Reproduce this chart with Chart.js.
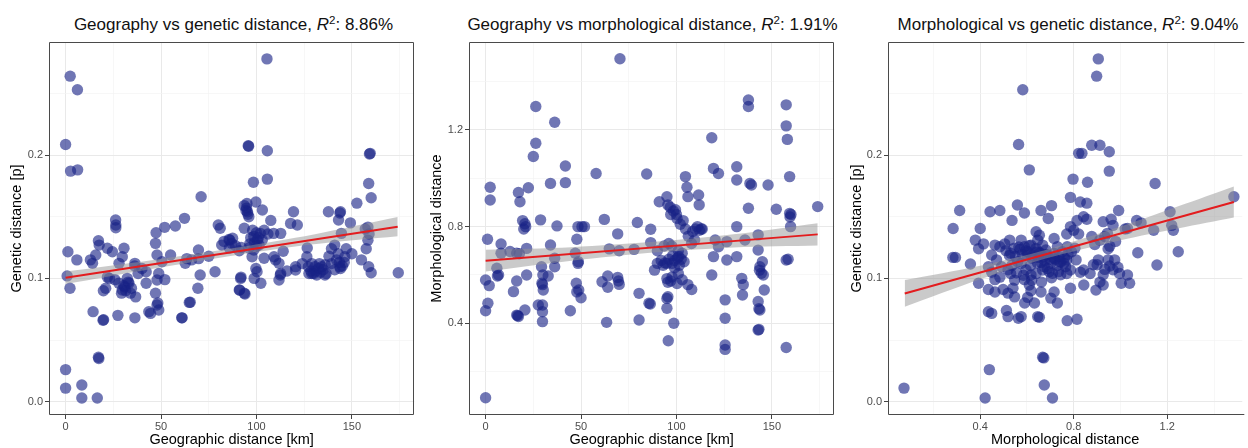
<!DOCTYPE html>
<html>
<head>
<meta charset="utf-8">
<script src="https://cdn.jsdelivr.net/npm/chart.js@4.4.1/dist/chart.umd.min.js"></script>
<style>
  html, body { margin:0; padding:0; background:#fff; overflow:hidden; }
  body { width:1248px; height:448px; position:relative; font-family:"Liberation Sans", Arial, Helvetica, sans-serif; }
  canvas { position:absolute; top:0; }
  .ttl { position:absolute; top:16px; font-size:17px; line-height:17px; white-space:nowrap; transform:translateX(-50%); color:#111; }
  .ttl sup { font-size:0.68em; line-height:0; vertical-align:0; position:relative; top:-0.5em; }
</style>
</head>
<body>
<div class="ttl" style="left:233.5px">Geography vs genetic distance, <i>R</i><sup>2</sup>: 8.86%</div>
<div class="ttl" style="left:652.5px">Geography vs morphological distance, <i>R</i><sup>2</sup>: 1.91%</div>
<div class="ttl" style="left:1068px">Morphological vs genetic distance, <i>R</i><sup>2</sup>: 9.04%</div>
<canvas id="c1" width="420" height="448" style="left:0px"></canvas>
<canvas id="c2" width="420" height="448" style="left:420px"></canvas>
<canvas id="c3" width="408" height="448" style="left:840px"></canvas>
<script>
// ---------- Panel 1: geographic distance (km) vs genetic distance (p) ----------
const geoX1 = [0,2.4,6.2,2.6,6.3,105.5,1.2,5.9,0.8,2.3,0,0,8.5,8.5,16.6,17.2,17.4,14.4,19.6,19.9,
  21,19.8,21.9,17.2,17.6,21.9,24.5,15.8,14.1,26.2,26.3,26.3,27.4,30.6,29.7,28,25.8,27.9,29.7,29.3,
  31,32.3,33.2,34,32.8,34.5,36.7,30.5,31.5,36.3,36.3,38,36.2,42.2,42.2,44.5,47.4,47.1,47.9,48.8,
  47.9,50.5,47.1,47.9,48.3,48.8,51.9,57.5,62.3,63.5,62.7,61,65.3,64.8,69.6,70.5,69.3,71,69.7,78.3,
  80,81,86,87,81.8,85.6,60.9,43.6,91,91.7,91.2,93.6,91,94,95.7,95.9,98.4,105.7,105.7,93.6,
  94.5,95.5,96,95,99.7,103.1,107.5,93.6,87.5,98,100,102,104,106,109,112.7,98.6,100.5,85.8,92,
  96,101.4,98.6,97.7,109.2,104,99.7,91.9,98.8,102.3,100.3,111.8,112.7,111.8,112.5,110,119.4,117.9,121.4,120.5,
  120.5,126.6,126.4,127.2,127.5,130.7,131.6,132.5,134.2,135.9,133,137.7,139.3,139.3,141,142.8,143.7,144,143,144,
  143.7,144.5,146.3,147,149.2,146,152.6,159.6,159.2,158.8,160.1,157,158.4,158.4,157.5,159,158.8,160.1,174.3,
  89,83,75,55,66,23,13,40,52,114,116,124,129,136,138,141,150,155,
  97,99,101,103,96.5,100,128.5,130,131,133.5,135,136.5,129,142,143.5,145,94.8,95.3];
const genY1 = [0.2086,0.264,0.253,0.187,0.188,0.278,0.1216,0.115,0.102,0.092,0.026,0.011,0.0135,0.003,0.003,0.036,0.035,0.073,0.066,0.0665,
  0.092,0.090,0.101,0.1305,0.127,0.1244,0.1216,0.119,0.1122,0.1473,0.1433,0.141,0.070,0.1244,0.1176,0.1122,0.099,0.096,0.0906,0.088,
  0.093,0.100,0.096,0.088,0.097,0.092,0.085,0.094,0.090,0.068,0.1122,0.104,0.110,0.1054,0.096,0.0716,0.137,0.1284,0.119,0.104,
  0.0987,0.1135,0.088,0.0784,0.080,0.0743,0.1414,0.1425,0.1487,0.116,0.1122,0.068,0.0806,0.0805,0.123,0.1027,0.092,0.1662,0.116,0.1054,
  0.1433,0.1406,0.131,0.1284,0.127,0.1316,0.068,0.073,0.1224,0.100,0.0905,0.088,0.0906,0.0873,0.2076,0.2072,0.178,0.1805,0.2035,0.159,
  0.155,0.152,0.150,0.1608,0.162,0.1554,0.147,0.1406,0.1325,0.139,0.137,0.1365,0.139,0.136,0.1365,0.1365,0.134,0.131,0.1246,0.125,
  0.1246,0.127,0.123,0.1176,0.1176,0.1163,0.108,0.101,0.100,0.096,0.1054,0.1122,0.104,0.0987,0.1027,0.115,0.154,0.1446,0.1433,0.1095,
  0.1068,0.1246,0.1176,0.1095,0.104,0.1095,0.1027,0.108,0.1095,0.1027,0.112,0.154,0.112,0.124,0.127,0.120,0.1095,0.108,0.1473,0.154,
  0.153,0.1365,0.1176,0.124,0.145,0.113,0.161,0.2014,0.2009,0.177,0.1654,0.140,0.1416,0.131,0.124,0.136,0.1095,0.1046,0.1046,
  0.1265,0.1300,0.1180,0.1190,0.1150,0.1000,0.1150,0.1080,0.0990,0.1220,0.1060,0.1120,0.1040,0.1110,0.1180,0.1070,0.1200,0.1150,
  0.1330,0.1290,0.1330,0.1310,0.1280,0.1260,0.1060,0.1040,0.1060,0.1050,0.1070,0.1040,0.1120,0.1150,0.1130,0.1100,0.1570,0.1540];
const fitX1 = [0, 174];
const fitY1 = [0.1005, 0.1419];
const bandX1 = [0, 45, 90, 130, 174];
const bandLo1 = [0.0955, 0.1077, 0.1190, 0.1276, 0.1341];
const bandHi1 = [0.1055, 0.1147, 0.1250, 0.1356, 0.1497];

// ---------- Panel 2: geographic distance (km) vs morphological distance ----------
const geoX2 = [70.4,26.3,36.2,26.3,25,41.8,41.8,34,22.4,2.4,2.4,17.2,18,19.4,21,20,20.6,28.8,37.4,57.9,
  62.2,48.4,51.8,50.5,47.8,69.2,79.5,86.5,84.4,1,8.1,8.1,12.8,16.3,17.7,21.5,34,36.2,0,1.9,
  5.9,6.2,6.8,1.2,0,14.6,16.3,16.3,17.2,16.8,20.6,21.5,29.3,30,29.5,30.2,29.8,27.6,29.8,29.8,
  29.8,32.8,36.2,44.4,47,48.4,48.6,47.5,48.8,50,47.8,61,64,64,69.2,70,69.6,64.8,70,63.4,
  77.8,80.4,80.4,85.6,86.3,86.5,91,95,96.7,98.4,100.3,97,99.5,95.5,102,104.7,106.2,107.9,100,103.5,
  104.7,105.5,106,111.6,111.9,110,113,112,109.5,90,93.5,97.5,101,96,90,93,95,97.7,101.2,103,
  99,92,88.5,95,97.7,101,100.3,103,95.5,95,95,95.5,98.6,95.7,106,108,118.5,119.4,122,120.3,
  122,119.4,118.5,125.5,125.5,125.5,125.5,126.4,126.4,131.6,131.6,131.6,131.6,134.2,135,134.6,137.7,137.7,138.5,139.3,
  137.7,135.9,142.8,142.8,143.7,144.5,143.5,142.8,143.7,143.2,142.8,143.2,145,145.5,146,148,152.3,157.5,157.5,158.1,
  159.3,159.3,159.5,159.8,160,157.5,158.5,157.5,174,0,
  98,100.5,102.5,104,96,94,99,101.5,97,108.5,111,113.5];
const morY2 = [1.495,1.297,1.232,1.145,1.09,1.051,0.982,0.979,0.961,0.963,0.910,0.941,0.903,0.825,0.80,0.79,0.812,0.828,0.803,1.02,
  0.830,0.80,0.80,0.80,0.748,0.77,0.817,0.789,1.018,0.748,0.728,0.690,0.697,0.69,0.688,0.71,0.724,0.669,0.579,0.556,
  0.628,0.596,0.60,0.483,0.452,0.531,0.575,0.434,0.428,0.432,0.455,0.60,0.634,0.60,0.566,0.538,0.56,0.476,0.476,0.448,
  0.407,0.596,0.634,0.452,0.69,0.648,0.655,0.566,0.538,0.506,0.53,0.572,0.596,0.549,0.59,0.561,0.575,0.708,0.70,0.404,
  0.706,0.524,0.414,0.483,0.48,0.734,0.903,0.924,0.88,0.865,0.834,0.85,0.87,0.89,0.81,0.79,0.76,0.73,0.85,0.825,
  1.007,0.963,0.924,0.931,0.89,0.79,0.79,0.785,0.745,0.70,0.72,0.72,0.70,0.73,0.648,0.64,0.648,0.648,0.676,0.69,
  0.66,0.66,0.62,0.585,0.592,0.606,0.565,0.58,0.57,0.503,0.462,0.51,0.40,0.328,0.56,0.54,1.168,1.041,1.02,0.745,
  0.717,0.676,0.60,0.497,0.421,0.31,0.292,0.738,0.662,1.048,0.993,0.80,0.676,0.586,0.56,0.517,1.324,1.297,0.979,0.972,
  0.876,0.745,0.766,0.703,0.634,0.607,0.62,0.49,0.455,0.46,0.372,0.375,0.655,0.60,0.538,0.972,0.872,1.304,1.217,1.161,
  1.007,0.855,0.84,0.80,0.85,0.662,0.665,0.30,0.883,0.092,
  0.68,0.67,0.665,0.655,0.665,0.65,0.63,0.64,0.575,0.78,0.80,0.79];
const fitX2 = [0, 174];
const fitY2 = [0.659, 0.768];
const bandX2 = [0, 45, 90, 130, 174];
const bandLo2 = [0.614, 0.659, 0.694, 0.714, 0.722];
const bandHi2 = [0.704, 0.715, 0.738, 0.768, 0.814];

// ---------- Panel 3: morphological distance vs genetic distance (p) ----------
const morX3 = [0.074,0.905,0.898,0.582,0.564,0.61,0.821,0.835,0.877,0.912,0.952,0.952,0.797,0.859,1.148,0.786,0.828,0.856,1.485,0.312,
  0.284,0.283,0.294,0.358,0.4,0.442,0.484,0.559,0.589,0.536,0.66,0.705,0.691,0.786,0.814,0.842,0.856,0.77,0.8,0.821,
  0.926,0.968,0.992,1.069,1.088,1.142,1.212,1.219,1.226,1.247,1.156,1.074,0.877,0.89,0.912,0.933,0.947,0.944,0.979,0.9,
  0.933,0.954,0.926,0.996,1.003,0.926,0.912,0.895,0.87,0.842,0.828,0.786,0.77,0.81,0.786,0.77,0.744,0.716,0.702,0.73,
  0.662,0.66,0.646,0.617,0.603,0.59,0.632,0.53,0.547,0.54,0.547,0.519,0.575,0.512,0.519,0.435,0.449,0.393,0.435,0.463,
  0.498,0.379,0.393,0.414,0.463,0.484,0.505,0.526,0.449,0.47,0.491,0.519,0.435,0.449,0.463,0.484,0.575,0.589,0.603,0.617,
  0.638,0.639,0.653,0.646,0.667,0.681,0.646,0.66,0.674,0.695,0.667,0.639,0.716,0.73,0.751,0.772,0.716,0.737,0.758,0.702,
  0.688,0.709,0.884,0.905,0.575,0.596,0.617,0.589,0.61,0.439,0.421,0.667,0.672,0.674,0.709,0.772,0.814,0.653,0.563,0.968,
  0.989,0.975,0.947,0.954,1.03,1.039,1.02,1.03,0.96,0.843,0.55,0.56,0.62,0.68,0.74,0.6,0.57,0.65,0.72,0.53,
  0.51,0.525,0.545,0.565,0.58,0.595,0.61,0.625,0.64,0.655,0.67,0.685,0.7,0.715,0.73,0.745,0.76,0.775,0.79,0.805,
  0.555,0.585,0.615,0.645,0.675,0.705,0.735,0.765,0.535,0.62];
const genY3 = [0.011,0.278,0.264,0.253,0.2086,0.188,0.2014,0.2014,0.208,0.208,0.2027,0.187,0.1805,0.178,0.177,0.1657,0.162,0.161,0.1662,0.155,
  0.1405,0.117,0.117,0.1116,0.1405,0.154,0.155,0.1595,0.153,0.147,0.155,0.159,0.1486,0.142,0.147,0.15,0.148,0.136,0.139,0.136,
  0.146,0.143,0.155,0.147,0.145,0.139,0.154,0.143,0.139,0.1216,0.1108,0.1208,0.134,0.1275,0.131,0.134,0.124,0.1365,0.13,0.111,
  0.1073,0.11,0.103,0.104,0.096,0.0946,0.097,0.0905,0.104,0.1068,0.105,0.092,0.115,0.115,0.1068,0.104,0.103,0.089,0.084,0.080,
  0.097,0.089,0.069,0.09,0.0846,0.080,0.08,0.104,0.0986,0.092,0.085,0.088,0.069,0.074,0.069,0.073,0.0716,0.096,0.091,0.089,
  0.091,0.131,0.124,0.128,0.127,0.1257,0.128,0.131,0.119,0.115,0.1095,0.107,0.1095,0.105,0.099,0.101,0.131,0.1257,0.1216,0.127,
  0.1243,0.1378,0.135,0.131,0.127,0.123,0.117,0.113,0.1095,0.1054,0.1068,0.104,0.1324,0.1257,0.1216,0.1257,0.1203,0.1176,0.1122,0.1122,
  0.108,0.1041,0.111,0.115,0.112,0.107,0.1027,0.099,0.0946,0.026,0.003,0.036,0.0355,0.0135,0.003,0.0657,0.0668,0.0684,0.0676,0.107,
  0.109,0.115,0.115,0.126,0.1027,0.096,0.14,0.1405,0.148,0.0946,0.118,0.1135,0.1165,0.119,0.1135,0.1185,0.1235,0.1215,0.1155,0.1205,
  0.1225,0.1185,0.1245,0.1255,0.1195,0.1225,0.1265,0.1185,0.1215,0.1205,0.1175,0.1195,0.1155,0.1165,0.1105,0.1135,0.1165,0.1195,0.1215,0.1245,
  0.1045,0.1025,0.1105,0.1125,0.1145,0.1005,0.1055,0.1095,0.1105,0.0985];
const fitX3 = [0.077, 1.485];
const fitY3 = [0.0878, 0.162];
const bandX3 = [0.077, 0.4, 0.68, 1.0, 1.25, 1.485];
const bandLo3 = [0.077, 0.0993, 0.1161, 0.131, 0.1407, 0.1494];
const bandHi3 = [0.0986, 0.1103, 0.1231, 0.142, 0.1587, 0.1746];

// ---------- axis settings ----------
const xTitle1 = 'Geographic distance [km]';
const yTitle1 = 'Genetic distance [p]';
const xTitle2 = 'Geographic distance [km]';
const yTitle2 = 'Morphological distance';
const xTitle3 = 'Morphological distance';
const yTitle3 = 'Genetic distance [p]';

const FONT = '"Liberation Sans", Arial, Helvetica, sans-serif';
const POINT_COLOR = 'rgba(24,34,134,0.62)';
const LINE_COLOR = '#e31c1e';
const BAND_COLOR = 'rgba(150,150,150,0.5)';

function pairs(xs, ys) { return xs.map((x, i) => ({ x: x, y: ys[i] })); }
function isMajor(v, step) { const r = v / step; return Math.abs(r - Math.round(r)) < 1e-6; }

const borderPlugin = {
  id: 'panelBorder',
  afterDatasetsDraw(chart, args, opts) {
    const a = chart.chartArea, ctx = chart.ctx;
    ctx.save();
    ctx.strokeStyle = '#4a4a4a';
    ctx.lineWidth = 1;
    ctx.beginPath();
    const l = Math.round(a.left) + 0.5, t = Math.round(a.top) + 0.5, b = Math.round(a.bottom) - 0.5, r = Math.round(a.right) - 0.5;
    if (opts.right === false) {
      ctx.moveTo(a.right + 2, t); ctx.lineTo(l, t); ctx.lineTo(l, b); ctx.lineTo(a.right + 2, b);
    } else {
      ctx.rect(l, t, r - l, b - t);
    }
    ctx.stroke();
    ctx.restore();
  }
};

function axis(opts) {
  return {
    type: 'linear',
    position: opts.position,
    min: opts.min, max: opts.max,
    afterFit: opts.position === 'bottom' ? (s => { s.height = opts.size; }) : (s => { s.width = opts.size; }),
    ticks: {
      stepSize: opts.step,
      includeBounds: false,
      autoSkip: false,
      maxRotation: 0,
      color: '#4d4d4d',
      padding: opts.position === 'bottom' ? 1 : 2,
      font: { family: FONT, size: 11 },
      callback: v => isMajor(v, opts.major) ? v.toFixed(opts.digits) : ''
    },
    grid: {
      color: c => (c.tick && isMajor(c.tick.value, opts.major)) ? '#e9e9e9' : '#f3f3f3',
      lineWidth: c => (c.tick && isMajor(c.tick.value, opts.major)) ? 1 : 0.7,
      tickColor: c => (c.tick && isMajor(c.tick.value, opts.major)) ? '#444' : 'rgba(0,0,0,0)',
      tickLength: 4,
      drawTicks: true
    },
    border: { display: false },
    title: {
      display: true,
      text: opts.title,
      color: '#000',
      font: { family: FONT, size: 14.5, lineHeight: 1 },
      padding: opts.position === 'bottom' ? { top: 0, bottom: 0.5 } : { top: 10, bottom: 0 }
    }
  };
}

function makePanel(id, xs, ys, fx, fy, bx, blo, bhi, xa, ya, pad, border) {
  return new Chart(document.getElementById(id), {
    type: 'scatter',
    data: {
      datasets: [
        { type: 'line', data: pairs(fx, fy), borderColor: LINE_COLOR, borderWidth: 2, pointRadius: 0, fill: false, order: 0 },
        { type: 'line', data: pairs(bx, blo), borderWidth: 0, borderColor: 'rgba(0,0,0,0)', pointRadius: 0, fill: false, order: 2, tension: 0.3 },
        { type: 'line', data: pairs(bx, bhi), borderWidth: 0, borderColor: 'rgba(0,0,0,0)', pointRadius: 0, fill: '-1', backgroundColor: BAND_COLOR, order: 1, tension: 0.3 },
        { data: pairs(xs, ys), backgroundColor: POINT_COLOR, borderWidth: 0, pointRadius: 5.7, order: 3 }
      ]
    },
    options: {
      responsive: false,
      animation: false,
      events: [],
      devicePixelRatio: 1,
      layout: { padding: pad },
      plugins: { legend: { display: false }, tooltip: { enabled: false }, title: { display: false }, panelBorder: border },
      scales: { x: axis(xa), y: axis(ya) }
    },
    plugins: [borderPlugin]
  });
}

makePanel('c1', geoX1, genY1, fitX1, fitY1, bandX1, bandLo1, bandHi1,
  { position: 'bottom', min: -8.7, max: 182.7, step: 25, major: 50, digits: 0, size: 33, title: xTitle1 },
  { position: 'left', min: -0.0108, max: 0.2917, step: 0.05, major: 0.1, digits: 1, size: 49, title: yTitle1 },
  { top: 42, right: 4, bottom: 0, left: 0 }, {});

makePanel('c2', geoX2, morY2, fitX2, fitY2, bandX2, bandLo2, bandHi2,
  { position: 'bottom', min: -8.7, max: 182.7, step: 25, major: 50, digits: 0, size: 33, title: xTitle2 },
  { position: 'left', min: 0.0206, max: 1.564, step: 0.2, major: 0.4, digits: 1, size: 49, title: yTitle2 },
  { top: 42, right: 4, bottom: 0, left: 0 }, {});

makePanel('c3', morX3, genY3, fitX3, fitY3, bandX3, bandLo3, bandHi3,
  { position: 'bottom', min: 0.0055, max: 1.521, step: 0.2, major: 0.4, digits: 1, size: 33, title: xTitle3 },
  { position: 'left', min: -0.0108, max: 0.2917, step: 0.05, major: 0.1, digits: 1, size: 48, title: yTitle3 },
  { top: 42, right: 0, bottom: 0, left: 0 }, { right: false });
</script>
</body>
</html>
